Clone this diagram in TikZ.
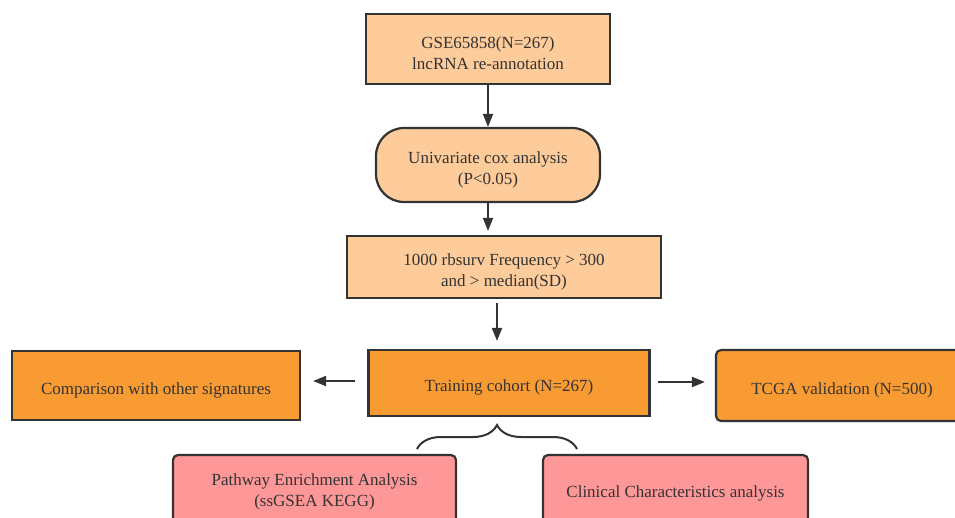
\documentclass[tikz,border=0pt]{standalone}
\usepackage{fontspec}
\setmainfont{Liberation Serif}
\usetikzlibrary{arrows.meta,decorations.pathreplacing}
\definecolor{peach}{HTML}{FECB9A}
\definecolor{orangefill}{HTML}{F99B33}
\definecolor{pinkfill}{HTML}{FE9797}
\definecolor{edge}{HTML}{333333}
\newcommand{\topstrut}{\rule{0pt}{21pt}}
\tikzset{
  box/.style={draw=edge, line width=2.2pt, align=center, inner sep=0pt,
    font=\fontsize{17}{21}\selectfont, text=edge},
  peachbox/.style={box, fill=peach},
  orangebox/.style={box, fill=orangefill},
  pinkbox/.style={box, fill=pinkfill, rounded corners=5pt},
  arr/.style={draw=edge, line width=2pt, -{Triangle[length=13pt,width=10pt]}}
}
\begin{document}
\begin{tikzpicture}[x=1pt,y=1pt]
  \useasboundingbox (0,0) rectangle (955,-518);
  \clip (0,0) rectangle (955,-518);
  \node[peachbox, minimum width=244pt, minimum height=70pt] (gse) at (488,-49) {\topstrut GSE65858(N=267)\\lncRNA re-annotation};
  \node[peachbox, rounded corners=28pt, minimum width=224pt, minimum height=74pt] (cox) at (488,-165) {\topstrut Univariate cox analysis\\(P<0.05)};
  \node[peachbox, minimum width=314pt, minimum height=62pt] (rbs) at (504,-267) {\topstrut 1000 rbsurv Frequency > 300\\and > median(SD)};
  \node[orangebox, minimum width=281pt, minimum height=66pt] (train) at (509,-383) {\topstrut Training cohort (N=267)};
  \node[orangebox, minimum width=288pt, minimum height=69pt] (comp) at (156,-385.5) {\topstrut Comparison with other signatures};
  \node[orangebox, rounded corners=5pt, minimum width=252pt, minimum height=71pt] (tcga) at (842,-385.5) {\topstrut TCGA validation (N=500)};
  \node[pinkbox, minimum width=283pt, minimum height=68pt] (path) at (314.5,-489) {\rule{0pt}{17pt}Pathway Enrichment Analysis\\(ssGSEA KEGG)};
  \node[pinkbox, minimum width=265pt, minimum height=68pt] (clin) at (675.5,-489) {\topstrut Clinical Characteristics analysis};
  \coordinate (bl) at (417,-449);
  \coordinate (br) at (577,-449);
  \draw[arr] (gse) -- (cox);
  \draw[arr, shorten >=4pt] (cox) -- (cox |- rbs.north);
  \draw[arr, shorten <=4pt, shorten >=8pt] (rbs.south -| 497,0) -- (train.north -| 497,0);
  \draw[arr, shorten <=12pt, shorten >=12pt] (train.west |- 0,-381) -- (comp.east |- 0,-381);
  \draw[arr, shorten <=7pt, shorten >=10pt] (train.east |- 0,-382) -- (tcga.west |- 0,-382);
  \draw[edge, line width=2pt, decorate, decoration={brace, amplitude=24pt}] (bl) -- (br);
\end{tikzpicture}
\end{document}
